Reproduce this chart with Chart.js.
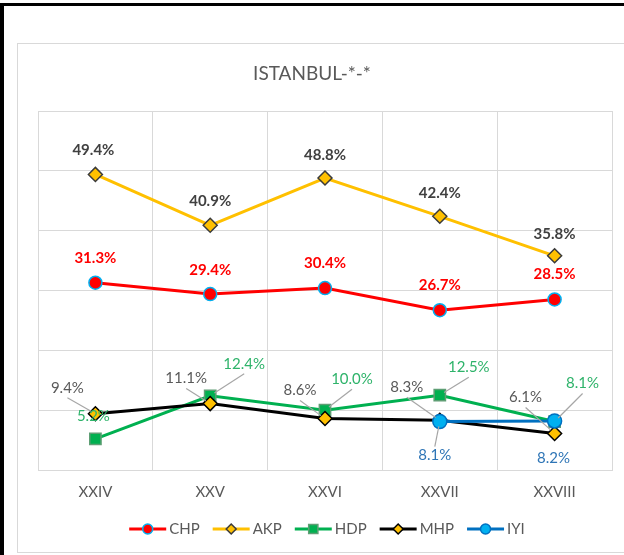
<!DOCTYPE html>
<html lang="tr">
  <head>
    <meta charset="UTF-8" />
    <title>ISTANBUL</title>
    <script src="https://cdn.jsdelivr.net/npm/chart.js"></script>
    <style>
      html, body { margin: 0; padding: 0; background: #fff; }
      canvas { display: block; }
    </style>
  </head>
  <body>
    <canvas id="chart" width="624" height="555"></canvas>

    <script>
      // data
      const categories = ["XXIV", "XXV", "XXVI", "XXVII", "XXVIII"];
      const chp = [31.3, 29.4, 30.4, 26.7, 28.5];
      const akp = [49.4, 40.9, 48.8, 42.4, 35.8];
      const hdp = [5.2, 12.4, 10.0, 12.5, 8.1];
      const mhp = [9.4, 11.1, 8.6, 8.3, 6.1];
      const iyi = [null, null, null, 8.1, 8.2];

      const TITLE = "ISTANBUL-*-*";
      const FONT = "Lato, 'Open Sans', sans-serif";
      const GRID = "#D9D9D9";
      const TEXT = "#595959";

      // label placement relative to each point [dx, dy, leader]
      const labelPlacement = {
        CHP: [[0, -25], [0, -24], [0, -25], [0, -25], [0, -25]],
        AKP: [[-2, -24], [0, -24], [0, -23], [0, -23], [0, -22]],
        HDP: [[-2, -23], [34, -32, 1], [27, -31, 1], [29, -28, 1], [28, -38, 1]],
        MHP: [[-28, -26, 1], [-24, -25, 1], [-25, -28, 1], [-33, -33, 1], [-29, -36, 1]],
        IYI: [null, null, null, [-5, 34, 1], [-1, 37]],
      };

      const labelStyle = {
        CHP: { color: "#FF0000", weight: "bold" },
        AKP: { color: "#404040", weight: "bold" },
        HDP: { color: "#2EB36A", weight: "normal" },
        MHP: { color: "#595959", weight: "normal" },
        IYI: { color: "#2E75B6", weight: "normal" },
      };

      const datasets = [
        {
          label: "CHP", data: chp, order: 5,
          borderColor: "#FF0000", borderWidth: 3,
          pointStyle: "circle", pointRadius: 6.5,
          pointBackgroundColor: "#FF0000", pointBorderColor: "#00B0F0", pointBorderWidth: 1.5,
        },
        {
          label: "AKP", data: akp, order: 4,
          borderColor: "#FFC000", borderWidth: 3,
          pointStyle: "rectRot", pointRadius: 7,
          pointBackgroundColor: "#FFC000", pointBorderColor: "#3A3A3A", pointBorderWidth: 1.5,
        },
        {
          label: "HDP", data: hdp, order: 3,
          borderColor: "#00B050", borderWidth: 3,
          pointStyle: "rect", pointRadius: 8,
          pointBackgroundColor: "#00B050", pointBorderColor: "#5E9E74", pointBorderWidth: 1.5,
        },
        {
          label: "MHP", data: mhp, order: 2,
          borderColor: "#000000", borderWidth: 3,
          pointStyle: "rectRot", pointRadius: 7,
          pointBackgroundColor: "#FFC000", pointBorderColor: "#000000", pointBorderWidth: 1.5,
        },
        {
          label: "IYI", data: iyi, order: 1,
          borderColor: "#0070C0", borderWidth: 3,
          pointStyle: "circle", pointRadius: 7,
          pointBackgroundColor: "#00B0F0", pointBorderColor: "#0070C0", pointBorderWidth: 1.5,
        },
      ];

      // white page, black frame on the left/top, light gray chart box, title
      const framePlugin = {
        id: "frame",
        beforeDraw(chart) {
          const ctx = chart.ctx;
          ctx.save();
          ctx.fillStyle = "#fff";
          ctx.fillRect(0, 0, chart.width, chart.height);
          ctx.strokeStyle = GRID;
          ctx.lineWidth = 1;
          ctx.strokeRect(17.5, 43.5, chart.width + 20, 509);
          ctx.fillStyle = "#000";
          ctx.fillRect(0, 3, chart.width, 3);
          ctx.fillRect(0, 3, 4, chart.height);
          ctx.fillStyle = TEXT;
          ctx.font = "19px " + FONT;
          ctx.textAlign = "center";
          ctx.textBaseline = "middle";
          ctx.fillText(TITLE, 312, 74);
          ctx.restore();
        },
      };

      const labelPlugin = {
        id: "pointLabels",
        afterDatasetsDraw(chart) {
          const ctx = chart.ctx;
          ctx.save();
          chart.data.datasets.forEach((ds, di) => {
            const meta = chart.getDatasetMeta(di);
            const place = labelPlacement[ds.label];
            const style = labelStyle[ds.label];
            meta.data.forEach((pt, i) => {
              const v = ds.data[i];
              if (v == null || !place[i]) return;
              const [dx, dy, leader] = place[i];
              const text = v.toFixed(1) + "%";
              const cx = pt.x + dx;
              const cy = pt.y + dy;
              ctx.font = style.weight + " 15px " + FONT;
              if (leader) {
                const w = ctx.measureText(text).width;
                const top = cy - 8, bottom = cy + 8;
                let sx = cx, sy;
                if (pt.y > bottom) sy = bottom + 2;
                else sy = top - 1;
                if (Math.abs(pt.x - cx) > w / 2 + 4 && Math.abs(pt.y - cy) < 20) {
                  sx = pt.x > cx ? cx + w / 2 + 2 : cx - w / 2 - 2;
                  sy = cy + (pt.y > cy ? 4 : -4);
                }
                const len = Math.hypot(pt.x - sx, pt.y - sy);
                const k = Math.max(0, (len - 5) / len);
                ctx.strokeStyle = "#A6A6A6";
                ctx.lineWidth = 1.2;
                ctx.beginPath();
                ctx.moveTo(sx, sy);
                ctx.lineTo(sx + (pt.x - sx) * k, sy + (pt.y - sy) * k);
                ctx.stroke();
              }
              ctx.fillStyle = style.color;
              ctx.textAlign = "center";
              ctx.textBaseline = "middle";
              ctx.fillText(text, cx, cy);
            });
          });
          ctx.restore();
        },
      };

      // legend drawn as line + marker, like the spreadsheet legend
      const legendPlugin = {
        id: "lineLegend",
        afterDraw(chart) {
          const ctx = chart.ctx;
          ctx.save();
          ctx.font = "15px " + FONT;
          const lineLen = 37, gap = 3, spacing = 13;
          const items = chart.data.datasets.map((ds) => ({ ds, tw: ctx.measureText(ds.label).width }));
          const total = items.reduce((s, it) => s + lineLen + gap + it.tw, 0) + spacing * (items.length - 1);
          let x = 327 - total / 2;
          const y = 529;
          items.forEach(({ ds, tw }) => {
            ctx.strokeStyle = ds.borderColor;
            ctx.lineWidth = 3;
            ctx.beginPath();
            ctx.moveTo(x, y);
            ctx.lineTo(x + lineLen, y);
            ctx.stroke();
            ctx.fillStyle = ds.pointBackgroundColor;
            ctx.strokeStyle = ds.pointBorderColor;
            ctx.lineWidth = 1.5;
            Chart.helpers.drawPoint(ctx, {
              pointStyle: ds.pointStyle,
              rotation: 0,
              radius: ds.pointStyle === "rect" ? 6.5 : 5,
              borderWidth: 1.5,
            }, x + lineLen / 2, y);
            ctx.fillStyle = TEXT;
            ctx.textAlign = "left";
            ctx.textBaseline = "middle";
            ctx.fillText(ds.label, x + lineLen + gap, y);
            x += lineLen + gap + tw + spacing;
          });
          ctx.restore();
        },
      };

      new Chart(document.getElementById("chart"), {
        type: "line",
        data: { labels: categories, datasets },
        plugins: [framePlugin, labelPlugin, legendPlugin],
        options: {
          responsive: false,
          animation: false,
          devicePixelRatio: 1,
          layout: { padding: { left: 38, right: 12, top: 111, bottom: 41 } },
          elements: { line: { tension: 0 } },
          plugins: {
            legend: { display: false },
            tooltip: { enabled: false },
            title: { display: false },
          },
          scales: {
            x: {
              offset: true,
              grid: { color: GRID, drawTicks: false, offset: true },
              border: { color: GRID },
              ticks: { color: TEXT, padding: 13, font: { family: FONT, size: 15 } },
            },
            y: {
              min: 0,
              max: 60,
              ticks: { stepSize: 10, display: false },
              grid: { color: GRID, drawTicks: false },
              border: { color: GRID },
            },
          },
        },
      });
    </script>
  </body>
</html>
